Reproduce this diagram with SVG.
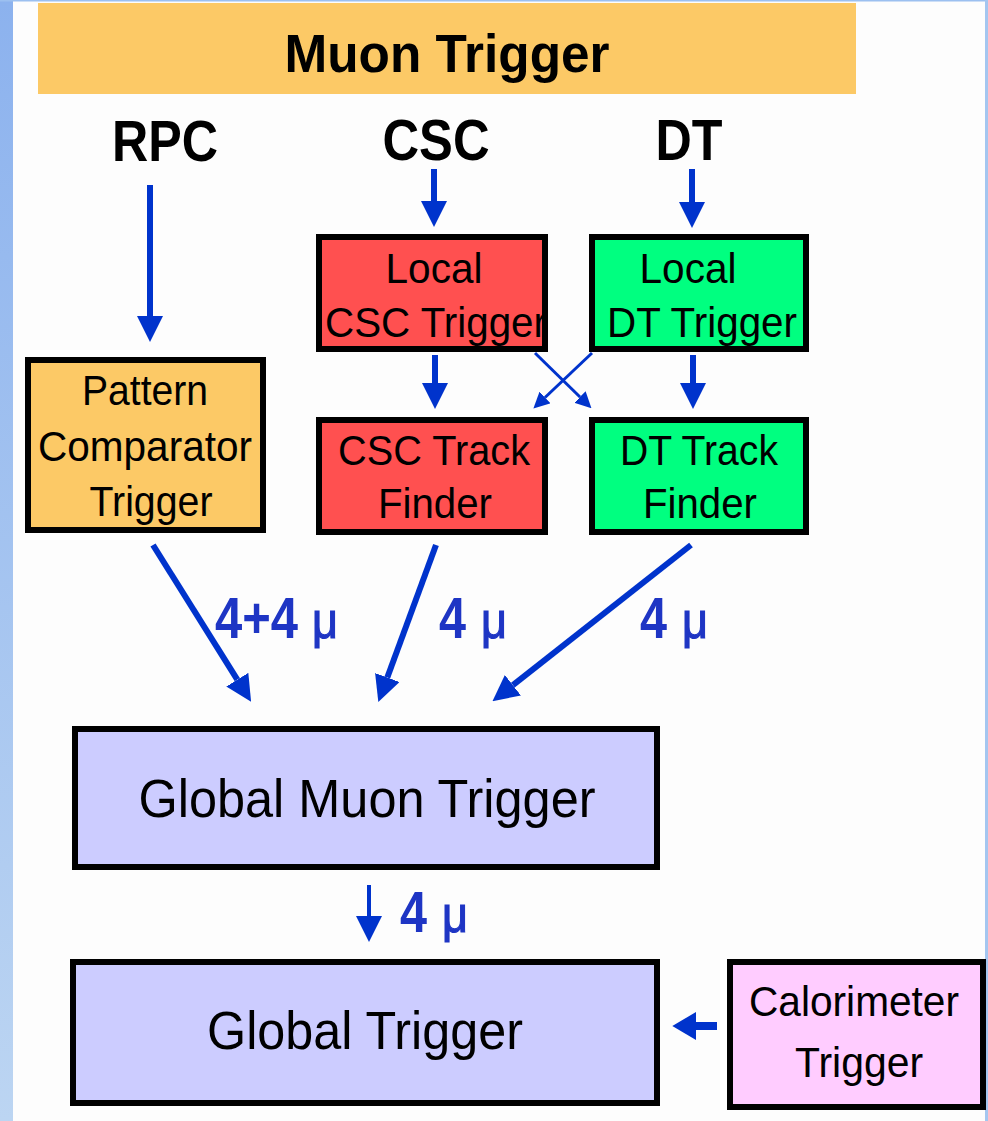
<svg xmlns="http://www.w3.org/2000/svg" width="988" height="1121" viewBox="0 0 988 1121">
  <defs>
    <linearGradient id="sideband" x1="0" y1="0" x2="0" y2="1">
      <stop offset="0" stop-color="#8cb2ee"/>
      <stop offset="1" stop-color="#bcd5f2"/>
    </linearGradient>
    <marker id="head" markerUnits="userSpaceOnUse" markerWidth="26" markerHeight="26" refX="0" refY="12" orient="auto" viewBox="0 0 24 24">
      <path d="M0,0 L24,12 L0,24 Z" fill="#0033cc"/>
    </marker>
    <marker id="headSmall" markerUnits="userSpaceOnUse" markerWidth="16" markerHeight="16" refX="0" refY="7" orient="auto" viewBox="0 0 14 14">
      <path d="M0,0 L14,7 L0,14 Z" fill="#0033cc"/>
    </marker>
    <marker id="headSide" markerUnits="userSpaceOnUse" markerWidth="24" markerHeight="28" refX="0" refY="13" orient="auto" viewBox="0 0 22 26">
      <path d="M0,0 L22,13 L0,26 Z" fill="#0033cc"/>
    </marker>
  </defs>
  <style>
    .box { stroke: #000; stroke-width: 6; }
    .orange { fill: #fcc966; }
    .red { fill: #ff5050; }
    .green { fill: #00ff80; }
    .lilac { fill: #ccccff; }
    .pink { fill: #ffccff; }
    .head { font-family: "Liberation Sans", Arial, sans-serif; font-weight: bold; fill: #000; text-anchor: middle; }
    .lbl { font-family: "Liberation Sans", Arial, sans-serif; fill: #000; text-anchor: middle; }
    .mu { font-family: "Liberation Sans", Arial, sans-serif; font-weight: bold; fill: #1e35c4; font-size: 58px; }
    .greek { font-weight: normal; font-size: 52px; stroke: #1e35c4; stroke-width: 1.2; }
    .wire { stroke: #0033cc; fill: none; }
    .thick { stroke-width: 6; marker-end: url(#head); }
    .thin { stroke-width: 3; marker-end: url(#headSmall); }
  </style>

  <!-- page background and frame -->
  <rect x="0" y="0" width="988" height="1121" fill="#fdfdfd"/>
  <rect x="0" y="0" width="13" height="1121" fill="url(#sideband)"/>
  <rect x="0" y="0" width="988" height="1.5" fill="#9cc0f0"/>
  <rect x="985" y="0" width="3" height="1121" fill="#a4c6f0"/>

  <!-- title bar -->
  <g id="title">
    <rect x="38" y="3" width="818" height="91" class="orange"/>
    <text x="447" y="72" class="head" font-size="54" textLength="325" lengthAdjust="spacingAndGlyphs">Muon Trigger</text>
  </g>

  <!-- detector sources -->
  <g id="src-rpc"><text x="165" y="161" class="head" font-size="58" textLength="106" lengthAdjust="spacingAndGlyphs">RPC</text></g>
  <g id="src-csc"><text x="436" y="160" class="head" font-size="58" textLength="107" lengthAdjust="spacingAndGlyphs">CSC</text></g>
  <g id="src-dt"><text x="689" y="160" class="head" font-size="58" textLength="67" lengthAdjust="spacingAndGlyphs">DT</text></g>

  <!-- processing nodes -->
  <g id="local-csc">
    <rect x="319" y="237" width="226" height="112" class="box red"/>
    <text x="434" y="283" class="lbl" font-size="42" textLength="97" lengthAdjust="spacingAndGlyphs">Local</text>
    <text x="436" y="337" class="lbl" font-size="42" textLength="222" lengthAdjust="spacingAndGlyphs">CSC Trigger</text>
  </g>
  <g id="local-dt">
    <rect x="592" y="237" width="214" height="112" class="box green"/>
    <text x="688" y="283" class="lbl" font-size="42" textLength="97" lengthAdjust="spacingAndGlyphs">Local</text>
    <text x="702" y="337" class="lbl" font-size="42" textLength="190" lengthAdjust="spacingAndGlyphs">DT Trigger</text>
  </g>
  <g id="pattern-comparator">
    <rect x="28" y="360" width="235" height="170" class="box orange"/>
    <text x="145" y="405" class="lbl" font-size="42" textLength="126" lengthAdjust="spacingAndGlyphs">Pattern</text>
    <text x="145" y="461" class="lbl" font-size="42" textLength="214" lengthAdjust="spacingAndGlyphs">Comparator</text>
    <text x="151" y="516" class="lbl" font-size="42" textLength="123" lengthAdjust="spacingAndGlyphs">Trigger</text>
  </g>
  <g id="csc-track-finder">
    <rect x="319" y="420" width="226" height="112" class="box red"/>
    <text x="434" y="465" class="lbl" font-size="42" textLength="192" lengthAdjust="spacingAndGlyphs">CSC Track</text>
    <text x="435" y="518" class="lbl" font-size="42" textLength="114" lengthAdjust="spacingAndGlyphs">Finder</text>
  </g>
  <g id="dt-track-finder">
    <rect x="592" y="420" width="214" height="112" class="box green"/>
    <text x="699" y="465" class="lbl" font-size="42" textLength="158" lengthAdjust="spacingAndGlyphs">DT Track</text>
    <text x="700" y="518" class="lbl" font-size="42" textLength="114" lengthAdjust="spacingAndGlyphs">Finder</text>
  </g>
  <g id="global-muon-trigger">
    <rect x="75" y="729" width="582" height="138" class="box lilac"/>
    <text x="367" y="817" class="lbl" font-size="54" textLength="457" lengthAdjust="spacingAndGlyphs">Global Muon Trigger</text>
  </g>
  <g id="global-trigger">
    <rect x="73" y="962" width="584" height="141" class="box lilac"/>
    <text x="365" y="1049" class="lbl" font-size="54" textLength="316" lengthAdjust="spacingAndGlyphs">Global Trigger</text>
  </g>
  <g id="calorimeter-trigger">
    <rect x="730" y="962" width="253" height="145" class="box pink"/>
    <text x="854" y="1016" class="lbl" font-size="43" textLength="210" lengthAdjust="spacingAndGlyphs">Calorimeter</text>
    <text x="859" y="1077" class="lbl" font-size="43" textLength="128" lengthAdjust="spacingAndGlyphs">Trigger</text>
  </g>

  <!-- data paths -->
  <g id="connectors">
    <line x1="150" y1="185" x2="150" y2="316" class="wire thick"/>
    <line x1="434" y1="169" x2="434" y2="201" class="wire thick"/>
    <line x1="692" y1="169" x2="692" y2="202" class="wire thick"/>
    <line x1="435" y1="355" x2="435" y2="383" class="wire thick"/>
    <line x1="693" y1="355" x2="693" y2="383" class="wire thick"/>
    <line x1="535" y1="353" x2="580" y2="397" class="wire thin"/>
    <line x1="592" y1="353" x2="545" y2="397.5" class="wire thin"/>
    <line x1="153" y1="545" x2="237.3" y2="679.7" class="wire thick"/>
    <line x1="436" y1="545" x2="387.3" y2="677.5" class="wire thick"/>
    <line x1="691" y1="545" x2="512.9" y2="685.2" class="wire thick"/>
    <line x1="369" y1="885" x2="369" y2="916" class="wire" stroke-width="4" marker-end="url(#head)"/>
    <line x1="717" y1="1026" x2="696" y2="1026" class="wire" stroke-width="8" marker-end="url(#headSide)"/>
  </g>

  <!-- link multiplicities -->
  <g id="link-labels">
    <text y="638" class="mu"><tspan x="215" textLength="83" lengthAdjust="spacingAndGlyphs">4+4</tspan><tspan x="312" class="greek" textLength="26" lengthAdjust="spacingAndGlyphs">μ</tspan></text>
    <text y="638" class="mu"><tspan x="439" textLength="27" lengthAdjust="spacingAndGlyphs">4</tspan><tspan x="481" class="greek" textLength="26" lengthAdjust="spacingAndGlyphs">μ</tspan></text>
    <text y="638" class="mu"><tspan x="640" textLength="27" lengthAdjust="spacingAndGlyphs">4</tspan><tspan x="682" class="greek" textLength="26" lengthAdjust="spacingAndGlyphs">μ</tspan></text>
    <text y="932" class="mu"><tspan x="400" textLength="27" lengthAdjust="spacingAndGlyphs">4</tspan><tspan x="442" class="greek" textLength="26" lengthAdjust="spacingAndGlyphs">μ</tspan></text>
  </g>
</svg>
